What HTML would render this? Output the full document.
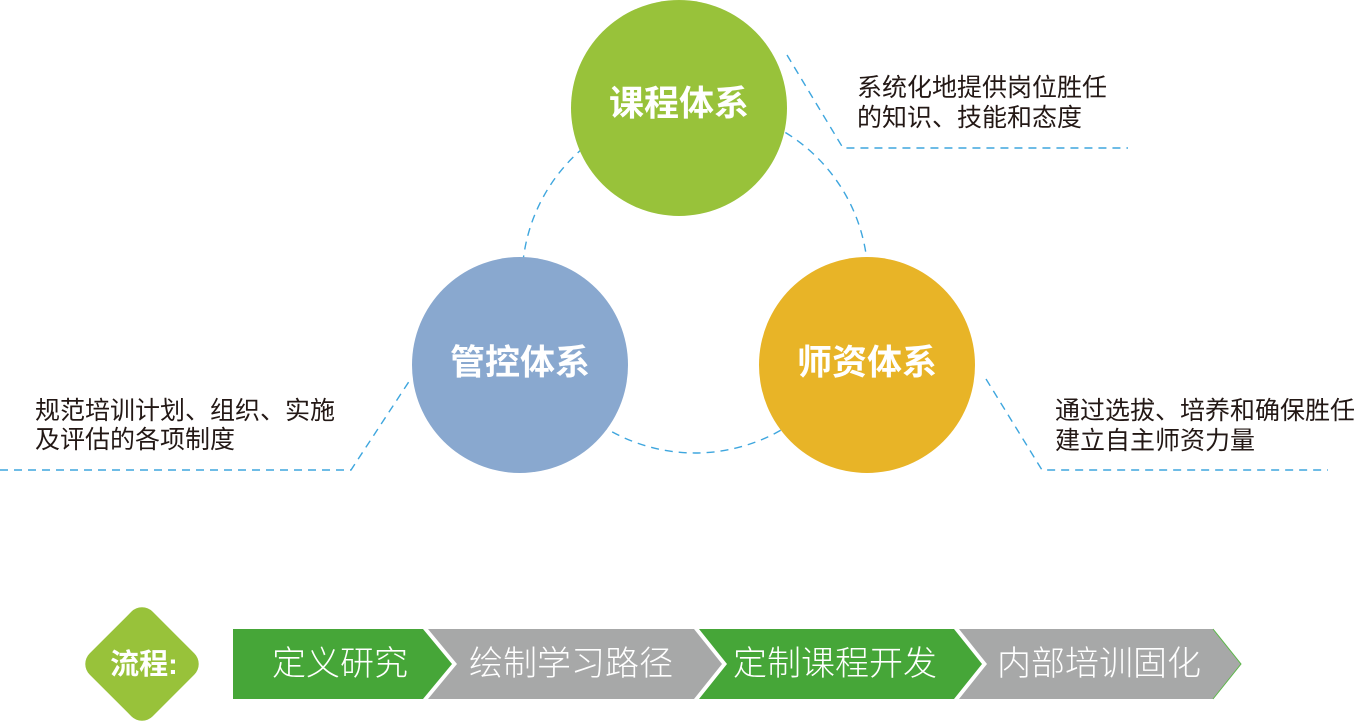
<!DOCTYPE html>
<html>
<head>
<meta charset="utf-8">
<style>
  html, body { margin: 0; padding: 0; background: #ffffff; }
  body { width: 1359px; height: 722px; overflow: hidden; }
  svg { display: block; }
  text { font-family: "Liberation Sans", "Noto Sans CJK SC", sans-serif; }
</style>
</head>
<body>
<svg width="1359" height="722" viewBox="0 0 1359 722" xmlns="http://www.w3.org/2000/svg">
  <!-- dashed connectors -->
  <g fill="none" stroke="#3ea6de" stroke-width="1.4" stroke-dasharray="8 6">
    <circle cx="695" cy="280" r="173"/>
    <polyline points="787,55 843,148 1128,148"/>
    <polyline points="0,470 351,470 410,380"/>
    <polyline points="986,379 1042,470 1328,470"/>
  </g>

  <!-- circles -->
  <circle cx="679" cy="108" r="108" fill="#98c23a"/>
  <circle cx="520" cy="365" r="108" fill="#89a8cf"/>
  <circle cx="867" cy="365" r="108" fill="#e8b427"/>

  <g fill="#ffffff" font-size="35" font-weight="700" text-anchor="middle" dominant-baseline="central">
    <text x="679" y="104">课程体系</text>
    <text x="520" y="363">管控体系</text>
    <text x="867" y="363">师资体系</text>
  </g>

  <!-- callout texts -->
  <g fill="#231815" font-size="25" dominant-baseline="central">
    <text x="857" y="88">系统化地提供岗位胜任</text>
    <text x="857" y="118">的知识、技能和态度</text>
    <text x="35" y="411">规范培训计划、组织、实施</text>
    <text x="35" y="440">及评估的各项制度</text>
    <text x="1055" y="411">通过选拔、培养和确保胜任</text>
    <text x="1055" y="441">建立自主师资力量</text>
  </g>

  <!-- diamond -->
  <rect x="97.5" y="619.5" width="89" height="89" rx="15" ry="15" fill="#98c23a" transform="rotate(45 142 664)"/>
  <text x="144" y="665" fill="#ffffff" font-size="29" font-weight="700" text-anchor="middle" dominant-baseline="central">流程:</text>

  <!-- chevrons -->
  <polygon points="233,629 423,629 452,664 423,699 233,699" fill="#46a638"/>
  <polygon points="428,629 694,629 722,664 694,699 428,699 457,664" fill="#a7a8a8"/>
  <polygon points="699,629 954,629 982,664 954,699 699,699 727,664" fill="#46a638"/>
  <polygon points="959,629 1213,629 1241,664 1213,699 959,699 987,664" fill="#a7a8a8"/>
  <polyline points="1213,629 1241,664 1213,699" fill="none" stroke="#5cb848" stroke-width="1"/>

  <g fill="#ffffff" font-size="34" font-weight="300" dominant-baseline="central">
    <text x="272" y="664">定义研究</text>
    <text x="469" y="664">绘制学习路径</text>
    <text x="733" y="664">定制课程开发</text>
    <text x="997" y="664">内部培训固化</text>
  </g>
</svg>
</body>
</html>
